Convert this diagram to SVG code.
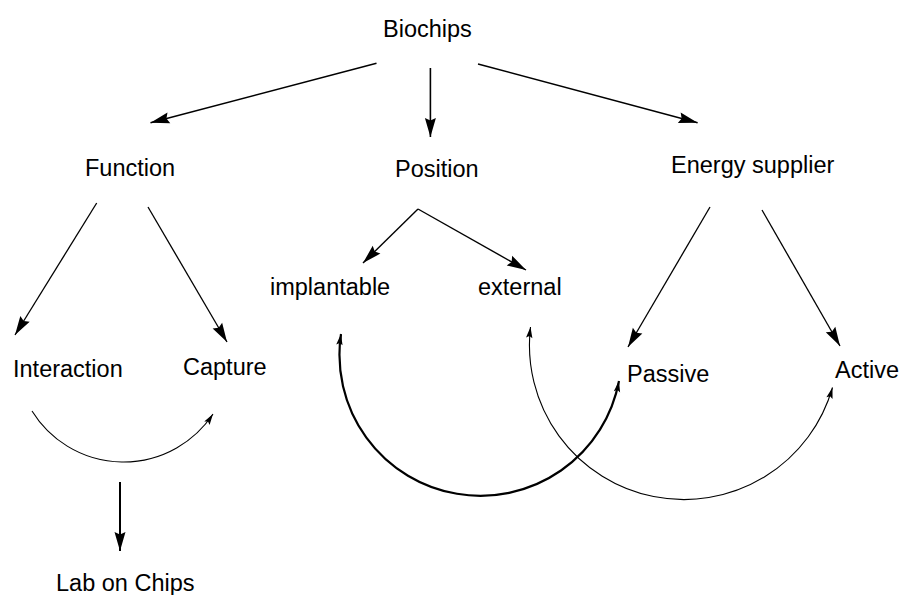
<svg xmlns="http://www.w3.org/2000/svg" width="900" height="595" viewBox="0 0 900 595">
<style>
text{font-family:"Liberation Sans",Arial,sans-serif;font-size:23.5px;fill:#000}
.c{fill:none;stroke:#000}
</style>
<defs>
<marker id="big" markerUnits="userSpaceOnUse" markerWidth="20" markerHeight="12" viewBox="0 0 20 12" refX="19" refY="6" orient="auto" overflow="visible"><path d="M0,0.5 L19,6 L0,11.5 L2.5,6 Z" fill="#000"/></marker>
<marker id="sm" markerUnits="userSpaceOnUse" markerWidth="12" markerHeight="8" viewBox="0 0 12 8" refX="11" refY="4" orient="auto-start-reverse" overflow="visible"><path d="M0,0.8 L11,4 L0,7.2 L2,4 Z" fill="#000"/></marker>
</defs>
<rect width="900" height="595" fill="#fff"/>
<g id="connectors">
<line class="c" x1="376.5" y1="63.3" x2="150.5" y2="122.7" stroke-width="1.5" marker-end="url(#big)"/>
<line class="c" x1="430.4" y1="68" x2="430.4" y2="137" stroke-width="1.6" marker-end="url(#big)"/>
<line class="c" x1="478" y1="64" x2="697.6" y2="122.7" stroke-width="1.5" marker-end="url(#big)"/>
<line class="c" x1="96.7" y1="203" x2="15" y2="335" stroke-width="1.3" marker-end="url(#big)"/>
<line class="c" x1="148" y1="207" x2="227" y2="342" stroke-width="1.3" marker-end="url(#big)"/>
<line class="c" x1="418" y1="209" x2="363" y2="263" stroke-width="1.4" marker-end="url(#big)"/>
<line class="c" x1="418" y1="209" x2="526" y2="270" stroke-width="1.4" marker-end="url(#big)"/>
<line class="c" x1="710" y1="207" x2="628" y2="347" stroke-width="1.3" marker-end="url(#big)"/>
<line class="c" x1="762" y1="210" x2="840" y2="346" stroke-width="1.3" marker-end="url(#big)"/>
<line class="c" x1="120" y1="482" x2="120" y2="551" stroke-width="2" marker-end="url(#big)"/>
<path class="c" d="M32,411 A107.5,107.5 0 0 0 213,414" stroke-width="1.1" marker-end="url(#sm)"/>
<path class="c" d="M341,334 A141,141 0 0 0 619,381" stroke-width="2.2" marker-start="url(#sm)" marker-end="url(#sm)"/>
<path class="c" d="M530.5,327 A154.5,154.5 0 0 0 832.5,387.5" stroke-width="1.1" marker-start="url(#sm)" marker-end="url(#sm)"/>
</g>
<g id="n-biochips"><text x="383" y="37">Biochips</text></g>
<g id="n-function"><text x="85" y="176">Function</text></g>
<g id="n-position"><text x="395" y="177">Position</text></g>
<g id="n-energy"><text x="671" y="173">Energy supplier</text></g>
<g id="n-interaction"><text x="13" y="377">Interaction</text></g>
<g id="n-capture"><text x="183" y="375">Capture</text></g>
<g id="n-implantable"><text x="270" y="295">implantable</text></g>
<g id="n-external"><text x="478" y="295">external</text></g>
<g id="n-passive"><text x="627" y="382">Passive</text></g>
<g id="n-active"><text x="835" y="378">Active</text></g>
<g id="n-lab"><text x="56" y="591">Lab on Chips</text></g>
</svg>
